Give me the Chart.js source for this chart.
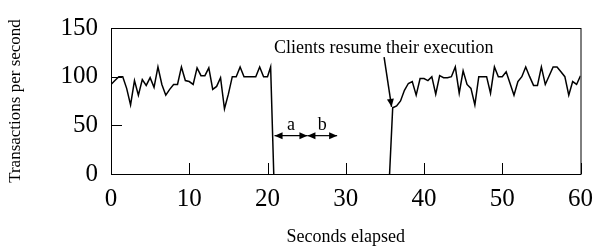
<!DOCTYPE html>
<html>
<head>
<meta charset="utf-8">
<script src="https://cdn.jsdelivr.net/npm/chart.js@4/dist/chart.umd.min.js"></script>
<style>html,body{margin:0;padding:0;background:#fff}</style>
</head>
<body>
<canvas id="myChart" width="603" height="246"></canvas>
<script>
// time (s) and throughput (null = nothing drawn, line sits on the axis)
var seconds = [0,0.5,1,1.5,2,2.5,3,3.5,4,4.5,5,5.5,6,6.5,7,7.5,8,8.5,9,9.5,10,10.5,11,11.5,12,12.5,13,13.5,14,14.5,15,15.5,16,16.5,17,17.5,18,18.5,19,19.5,20,20.4,20.8,
  28,
  35.6,36,36.5,37,37.5,38,38.5,39,39.5,40,40.5,41,41.5,42,42.5,43,43.5,44,44.5,45,45.5,46,46.5,47,47.5,48,48.5,49,49.5,50,50.5,51,51.5,52,52.5,53,53.5,54,54.5,55,55.5,56,56.5,57,57.5,58,58.5,59,59.5,60];
var tps = [92,96,100,100,88,71,96,81,97,91,99,89,110,92,81,87,92,92,110,96,95,92,109,101,101,109,87,90,99,67,82,100,100,110,100,100,100,100,110,100,100,110,0,
  null,
  0,68,70,75,86,93,95,81,98,98,96,100,82,101,99,99,100,110,83,106,92,88,71,100,100,100,83,110,100,100,105,93,81,95,100,110,100,91,91,110,92,101,110,110,105,100,81,95,92,101];
var xTicks = [0,10,20,30,40,50,60];
var yTicks = [0,50,100,150];
var note = "Clients resume their execution";
var gapLabels = ["a","b"];

var serif = "'Liberation Serif', 'Times New Roman', serif";

function arrowHead(c, x0, y0, x1, y1) {
  var ang = Math.atan2(y1 - y0, x1 - x0);
  var len = 8, w = 3.5;
  c.beginPath();
  c.moveTo(x1, y1);
  c.lineTo(x1 - len*Math.cos(ang) + w*Math.sin(ang), y1 - len*Math.sin(ang) - w*Math.cos(ang));
  c.lineTo(x1 - len*Math.cos(ang) - w*Math.sin(ang), y1 - len*Math.sin(ang) + w*Math.cos(ang));
  c.closePath();
  c.fill();
}

var framePlugin = {
  id: 'frame',
  afterDatasetsDraw: function(chart) {
    var c = chart.ctx, a = chart.chartArea;
    var xs = chart.scales.x, ys = chart.scales.y;
    c.save();
    c.strokeStyle = '#000';
    c.fillStyle = '#000';
    c.lineWidth = 1;
    c.strokeRect(a.left + 0.5, a.top + 0.5, a.right - a.left, a.bottom - a.top);
    c.beginPath();
    xTicks.forEach(function(v) {
      var px = Math.round(xs.getPixelForValue(v)) + 0.5;
      c.moveTo(px, a.bottom); c.lineTo(px, a.bottom - 11);
    });
    yTicks.forEach(function(v) {
      var py = Math.round(ys.getPixelForValue(v)) + 0.5;
      c.moveTo(a.left, py); c.lineTo(a.left + 11, py);
    });
    c.stroke();

    // note with arrow to the restart point
    c.font = "18px " + serif;
    c.textAlign = 'center';
    c.textBaseline = 'middle';
    c.fillText(note, xs.getPixelForValue(34.85), ys.getPixelForValue(129.6));
    var ax0 = xs.getPixelForValue(34.9), ay0 = ys.getPixelForValue(120);
    var ax1 = xs.getPixelForValue(35.86), ay1 = ys.getPixelForValue(69);
    c.lineWidth = 1.5;
    c.beginPath(); c.moveTo(ax0, ay0); c.lineTo(ax1, ay1); c.stroke();
    arrowHead(c, ax0, ay0, ax1, ay1);

    // a / b intervals
    var gy = ys.getPixelForValue(39.4);
    var ends = [[20.9, 25.1], [25.1, 28.9]];
    c.lineWidth = 1.2;
    ends.forEach(function(e, i) {
      var p0 = xs.getPixelForValue(e[0]), p1 = xs.getPixelForValue(e[1]);
      c.beginPath(); c.moveTo(p0, gy); c.lineTo(p1, gy); c.stroke();
      arrowHead(c, p1, gy, p0, gy);
      arrowHead(c, p0, gy, p1, gy);
      c.textBaseline = 'alphabetic';
      c.fillText(gapLabels[i], (p0 + p1) / 2, ys.getPixelForValue(45));
    });
    c.restore();
  }
};

var points = seconds.map(function(s, i) { return {x: s, y: tps[i]}; });

var ctx = document.getElementById('myChart').getContext('2d');
var myChart = new Chart(ctx, {
  type: 'line',
  data: {
    datasets: [{
      data: points,
      borderColor: '#000',
      borderWidth: 1.5,
      pointRadius: 0,
      tension: 0,
      fill: false,
      spanGaps: false
    }]
  },
  options: {
    responsive: false,
    animation: false,
    layout: {padding: {left: 0, right: 17, top: 25, bottom: 0}},
    plugins: {legend: {display: false}, tooltip: {enabled: false}},
    scales: {
      x: {
        type: 'linear', min: 0, max: 60,
        afterBuildTicks: function(s) { s.ticks = xTicks.map(function(v) { return {value: v}; }); },
        afterFit: function(s) { s.height = 72; },
        grid: {display: false, drawTicks: false},
        border: {display: false},
        ticks: {color: '#000', padding: 10, maxRotation: 0, font: {family: serif, size: 25}},
        title: {display: true, text: 'Seconds elapsed', color: '#000', padding: {top: 0, bottom: 0},
                font: {family: serif, size: 18, lineHeight: 1}}
      },
      y: {
        min: 0, max: 150,
        afterBuildTicks: function(s) { s.ticks = yTicks.map(function(v) { return {value: v}; }); },
        afterFit: function(s) { s.width = 111; },
        grid: {display: false, drawTicks: false},
        border: {display: false},
        ticks: {color: '#000', padding: 13, font: {family: serif, size: 25}},
        title: {display: true, text: 'Transactions per second', color: '#000', padding: {top: 7, bottom: 0},
                font: {family: serif, size: 17, lineHeight: 1}}
      }
    }
  },
  plugins: [framePlugin]
});
</script>
</body>
</html>
